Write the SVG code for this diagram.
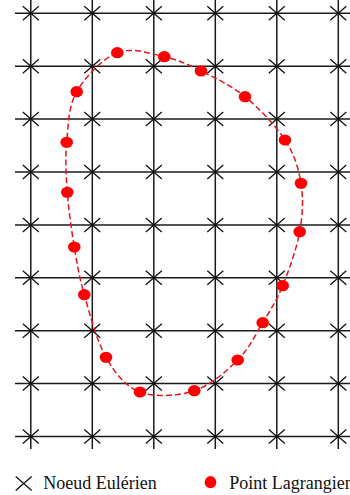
<svg xmlns="http://www.w3.org/2000/svg" width="350" height="495" viewBox="0 0 350 495">
<style>
.grid line{stroke:#1a1a1a;stroke-width:1.5}
.x{stroke:#111;stroke-width:1.3;fill:none}
.dot{fill:#ff0000}
.curve{fill:none;stroke:#e8141b;stroke-width:1.5;stroke-dasharray:6 3}
</style>
<defs>
<path id="cross" class="x" d="M-8,-7L8,7M-8,7L8,-7"/>
<ellipse id="pt" class="dot" rx="6.3" ry="5.6"/>
</defs>
<rect width="350" height="495" fill="#fff"/>
<g id="grid" class="grid">
<line x1="30.8" y1="0" x2="30.8" y2="449"/>
<line x1="92.3" y1="0" x2="92.3" y2="449"/>
<line x1="153.8" y1="0" x2="153.8" y2="449"/>
<line x1="215.3" y1="0" x2="215.3" y2="449"/>
<line x1="276.8" y1="0" x2="276.8" y2="449"/>
<line x1="338.3" y1="0" x2="338.3" y2="449"/>
<line x1="15" y1="13.3" x2="350" y2="13.3"/>
<line x1="15" y1="66.2" x2="350" y2="66.2"/>
<line x1="15" y1="119.1" x2="350" y2="119.1"/>
<line x1="15" y1="172" x2="350" y2="172"/>
<line x1="15" y1="224.9" x2="350" y2="224.9"/>
<line x1="15" y1="277.8" x2="350" y2="277.8"/>
<line x1="15" y1="330.7" x2="350" y2="330.7"/>
<line x1="15" y1="383.6" x2="350" y2="383.6"/>
<line x1="15" y1="436.5" x2="350" y2="436.5"/>
</g>
<g id="euler-nodes">
<g id="row0"><use href="#cross" x="30.8" y="13.3"/><use href="#cross" x="92.3" y="13.3"/><use href="#cross" x="153.8" y="13.3"/><use href="#cross" x="215.3" y="13.3"/><use href="#cross" x="276.8" y="13.3"/><use href="#cross" x="338.3" y="13.3"/></g>
<g id="row1"><use href="#cross" x="30.8" y="66.2"/><use href="#cross" x="92.3" y="66.2"/><use href="#cross" x="153.8" y="66.2"/><use href="#cross" x="215.3" y="66.2"/><use href="#cross" x="276.8" y="66.2"/><use href="#cross" x="338.3" y="66.2"/></g>
<g id="row2"><use href="#cross" x="30.8" y="119.1"/><use href="#cross" x="92.3" y="119.1"/><use href="#cross" x="153.8" y="119.1"/><use href="#cross" x="215.3" y="119.1"/><use href="#cross" x="276.8" y="119.1"/><use href="#cross" x="338.3" y="119.1"/></g>
<g id="row3"><use href="#cross" x="30.8" y="172"/><use href="#cross" x="92.3" y="172"/><use href="#cross" x="153.8" y="172"/><use href="#cross" x="215.3" y="172"/><use href="#cross" x="276.8" y="172"/><use href="#cross" x="338.3" y="172"/></g>
<g id="row4"><use href="#cross" x="30.8" y="224.9"/><use href="#cross" x="92.3" y="224.9"/><use href="#cross" x="153.8" y="224.9"/><use href="#cross" x="215.3" y="224.9"/><use href="#cross" x="276.8" y="224.9"/><use href="#cross" x="338.3" y="224.9"/></g>
<g id="row5"><use href="#cross" x="30.8" y="277.8"/><use href="#cross" x="92.3" y="277.8"/><use href="#cross" x="153.8" y="277.8"/><use href="#cross" x="215.3" y="277.8"/><use href="#cross" x="276.8" y="277.8"/><use href="#cross" x="338.3" y="277.8"/></g>
<g id="row6"><use href="#cross" x="30.8" y="330.7"/><use href="#cross" x="92.3" y="330.7"/><use href="#cross" x="153.8" y="330.7"/><use href="#cross" x="215.3" y="330.7"/><use href="#cross" x="276.8" y="330.7"/><use href="#cross" x="338.3" y="330.7"/></g>
<g id="row7"><use href="#cross" x="30.8" y="383.6"/><use href="#cross" x="92.3" y="383.6"/><use href="#cross" x="153.8" y="383.6"/><use href="#cross" x="215.3" y="383.6"/><use href="#cross" x="276.8" y="383.6"/><use href="#cross" x="338.3" y="383.6"/></g>
<g id="row8"><use href="#cross" x="30.8" y="436.5"/><use href="#cross" x="92.3" y="436.5"/><use href="#cross" x="153.8" y="436.5"/><use href="#cross" x="215.3" y="436.5"/><use href="#cross" x="276.8" y="436.5"/><use href="#cross" x="338.3" y="436.5"/></g>
</g>
<g id="connectors">
<path class="curve" d="M117.3,52.7 C131.9,46.87 150.35,53.65 164.3,56.7 C178.25,59.75 187.55,64.33 201,71 C214.45,77.67 231,85.2 245,96.7 C259,108.2 275.67,125.57 285,140 C294.33,154.43 298.55,168.02 301,183.3 C303.45,198.58 302.75,214.63 299.7,231.7 C296.65,248.77 288.87,270.53 282.7,285.7 C276.53,300.87 270.2,310.32 262.7,322.7 C255.2,335.08 249.1,348.67 237.7,360 C226.3,371.33 210.58,385.37 194.3,390.7 C178.02,396.03 154.72,397.57 140,392 C125.28,386.43 115.28,373.52 106,357.3 C96.72,341.08 89.58,313.08 84.3,294.7 C79.02,276.32 77.13,264.07 74.3,247 C71.47,229.93 68.57,209.75 67.3,192.3 C66.030,174.85 65.13,159.07 66.7,142.3 C68.27,125.53 68.27,106.63 76.7,91.7 C85.13,76.77 102.7,58.53 117.3,52.7 Z"/>
</g>
<g id="lagrange-points">
<use id="p0" href="#pt" x="117.3" y="52.7"/>
<use id="p1" href="#pt" x="164.3" y="56.7"/>
<use id="p2" href="#pt" x="201" y="71"/>
<use id="p3" href="#pt" x="245" y="96.7"/>
<use id="p4" href="#pt" x="285" y="140"/>
<use id="p5" href="#pt" x="301" y="183.3"/>
<use id="p6" href="#pt" x="299.7" y="231.7"/>
<use id="p7" href="#pt" x="282.7" y="285.7"/>
<use id="p8" href="#pt" x="262.7" y="322.7"/>
<use id="p9" href="#pt" x="237.7" y="360"/>
<use id="p10" href="#pt" x="194.3" y="390.7"/>
<use id="p11" href="#pt" x="140" y="392"/>
<use id="p12" href="#pt" x="106" y="357.3"/>
<use id="p13" href="#pt" x="84.3" y="294.7"/>
<use id="p14" href="#pt" x="74.3" y="247"/>
<use id="p15" href="#pt" x="67.3" y="192.3"/>
<use id="p16" href="#pt" x="66.7" y="142.3"/>
<use id="p17" href="#pt" x="76.7" y="91.7"/>
</g>
<g id="legend" font-family="'Liberation Serif', 'Times New Roman', serif" font-size="18" fill="#111">
<g id="legend-euler"><use href="#cross" x="23.7" y="483.5"/><text x="43.3" y="488.5" font-family="Liberation Serif, serif">Noeud Eulérien</text></g>
<g id="legend-lagrange"><ellipse class="dot" cx="210.5" cy="482.2" rx="5.8" ry="6.1"/><text x="229.3" y="488.5" font-family="Liberation Serif, serif">Point Lagrangien</text></g>
</g>
</svg>
